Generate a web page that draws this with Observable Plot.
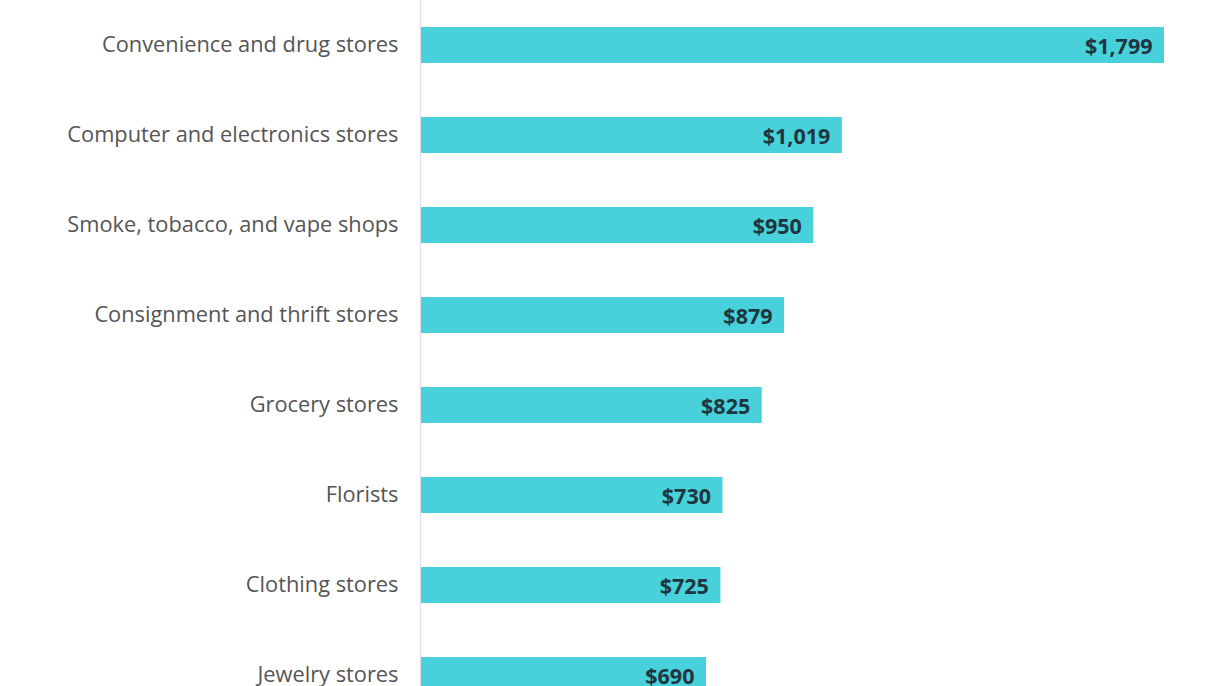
<!DOCTYPE html>
<html>
<head>
<meta charset="utf-8">
<script src="https://cdn.jsdelivr.net/npm/d3@7"></script>
<script src="https://cdn.jsdelivr.net/npm/@observablehq/plot@0.6"></script>
<style>
  html, body { margin: 0; padding: 0; background: #fff; overflow: hidden; }
  #chart svg { display: block; }
</style>
</head>
<body>
<div id="chart"></div>
<script>
const categories = [
  "Convenience and drug stores",
  "Computer and electronics stores",
  "Smoke, tobacco, and vape shops",
  "Consignment and thrift stores",
  "Grocery stores",
  "Florists",
  "Clothing stores",
  "Jewelry stores"
];
const values = [1799, 1019, 950, 879, 825, 730, 725, 690];
const labels = ["$1,799", "$1,019", "$950", "$879", "$825", "$730", "$725", "$690"];

const data = categories.map((c, i) => ({category: c, value: values[i], label: labels[i]}));

const chart = Plot.plot({
  width: 1220,
  height: 720,
  marginLeft: 421,
  marginRight: 56,
  marginTop: 0,
  marginBottom: 0,
  style: {fontFamily: "'Open Sans', sans-serif", background: "#fff"},
  x: {domain: [0, 1799], axis: null},
  y: {domain: categories, paddingInner: 0.6, paddingOuter: 0.3, axis: null},
  marks: [
    Plot.ruleX([0], {stroke: "#e2e2e2", strokeWidth: 1.5, dx: -1}),
    Plot.barX(data, {y: "category", x: "value", fill: "#48d1da"}),
    Plot.axisY({tickSize: 0, tickPadding: 23, fontSize: 21.8, color: "#555", textAnchor: "end", label: null}),
    Plot.text(data, {y: "category", x: "value", text: "label", textAnchor: "end", dx: -12, dy: 2, fontSize: 21.5, fontWeight: "bold", fill: "#1f3540"})
  ]
});
document.getElementById("chart").appendChild(chart);
</script>
</body>
</html>
